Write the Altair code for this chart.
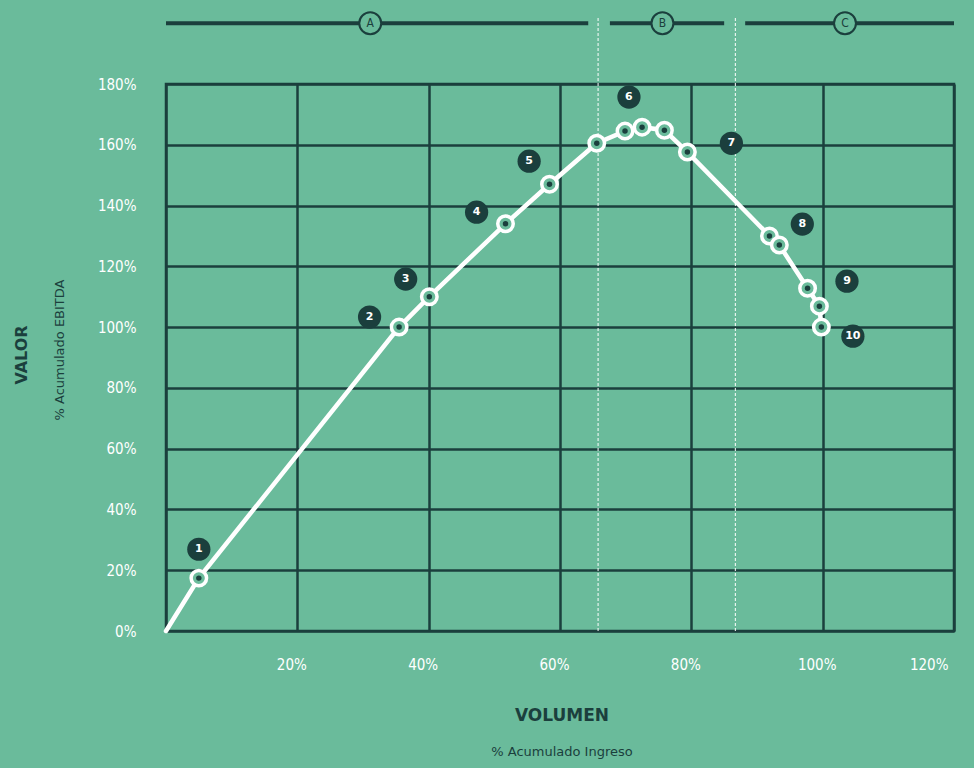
import altair as alt
import pandas as pd

# ---- data ----
x_vals = [0, 5.0, 35.5, 40.1, 51.7, 58.4, 65.6, 69.9, 72.5, 75.9, 79.4, 91.9, 93.4, 97.7, 99.5, 99.8]
y_vals = [0, 17.4, 100, 110, 134, 147, 160.5, 164.5, 165.8, 164.8, 157.6, 130, 127, 112.8, 106.9, 100]

badge_labels = ["1", "2", "3", "4", "5", "6", "7", "8", "9", "10"]
badge_x = [5.0, 31.0, 36.5, 47.3, 55.3, 70.5, 86.1, 96.9, 103.7, 104.6]
badge_y = [26.9, 103.3, 115.8, 137.8, 154.6, 175.7, 160.5, 133.9, 115.1, 97.0]

zone_labels = ["A", "B", "C"]
zone_start = [0, 67.6, 88.2]
zone_end = [64.3, 85.0, 120]
zone_center = [31.1, 75.6, 103.4]
zone_level = [200, 200, 200]

divider_x = [65.8, 86.7]
divider_bottom = [0, 0]
divider_top = [202, 202]

x_ticks = [0, 20, 40, 60, 80, 100, 120]
y_ticks = [0, 20, 40, 60, 80, 100, 120, 140, 160, 180]

# ---- styles ----
BG = "#6abb9b"
DARK = "#1b3f3d"
W, H = 788, 547
FONT = "Liberation Sans Narrow, DejaVu Sans Condensed, sans-serif"

xs = alt.Scale(domain=[0, 120], nice=False, zero=True)
ys = alt.Scale(domain=[0, 180], nice=False, zero=True)

curve = pd.DataFrame({"x": x_vals, "y": y_vals, "i": list(range(len(x_vals)))})
markers = curve[curve["i"] > 0]
badges = pd.DataFrame({"x": badge_x, "y": badge_y, "t": badge_labels})
zones = pd.DataFrame({"x": zone_start, "x2": zone_end, "c": zone_center,
                      "y": zone_level, "t": zone_labels})
dividers = pd.DataFrame({"x": divider_x, "y": divider_bottom, "y2": divider_top})
one = pd.DataFrame({"k": [0]})

x_axis = alt.Axis(values=x_ticks, grid=True, gridColor=DARK, gridWidth=2.5, gridOpacity=1,
                  domain=False, ticks=False, labelColor="white", labelFontSize=15,
                  labelFont=FONT, labelPadding=26, labelOffset=-6, title=None,
                  labelExpr="datum.value == 0 ? '' : datum.value + '%'")
y_axis = alt.Axis(values=y_ticks, grid=True, gridColor=DARK, gridWidth=2.5, gridOpacity=1,
                  domain=False, ticks=False, labelColor="white", labelFontSize=15,
                  labelFont=FONT, labelPadding=30, title=None,
                  labelExpr="datum.value + '%'")


def X(f):
    return alt.X(f, scale=xs, axis=x_axis)


def Y(f):
    return alt.Y(f, scale=ys, axis=y_axis)


line = alt.Chart(curve).mark_line(color="white", strokeWidth=4.5, strokeCap="round").encode(
    x=X("x:Q"), y=Y("y:Q"), order="i:Q",
)

rings = alt.Chart(markers).mark_point(shape="circle", filled=True, fill=BG, stroke="white",
                                      strokeWidth=3.5, size=240, opacity=1).encode(
    x=X("x:Q"), y=Y("y:Q"),
)
dots = alt.Chart(markers).mark_circle(color=DARK, size=30, opacity=1).encode(
    x=X("x:Q"), y=Y("y:Q"),
)

badge_c = alt.Chart(badges).mark_circle(color=DARK, size=540, opacity=1).encode(
    x=X("x:Q"), y=Y("y:Q"),
)
badge_t = alt.Chart(badges).mark_text(color="white", fontSize=11, fontWeight="bold",
                                      font="DejaVu Sans").encode(
    x=X("x:Q"), y=Y("y:Q"), text="t:N",
)

div = alt.Chart(dividers).mark_rule(color="white", strokeWidth=1, strokeDash=[3, 2]).encode(
    x=X("x:Q"), y=Y("y:Q"), y2="y2:Q",
)

zone_bar = alt.Chart(zones).mark_rule(color=DARK, strokeWidth=4).encode(
    x=X("x:Q"), x2="x2:Q", y=Y("y:Q"),
)
zone_c = alt.Chart(zones).mark_point(shape="circle", filled=True, fill=BG, stroke=DARK,
                                     strokeWidth=2, size=480, opacity=1).encode(
    x=X("c:Q"), y=Y("y:Q"),
)
zone_t = alt.Chart(zones).mark_text(color=DARK, fontSize=12, font="DejaVu Sans Condensed").encode(
    x=X("c:Q"), y=Y("y:Q"), text="t:N",
)

ttl_y = alt.Chart(one).mark_text(text="VALOR", angle=270, color=DARK, fontSize=16,
                                 fontWeight="bold", font="DejaVu Sans").encode(
    x=alt.value(-144), y=alt.value(271))
sub_y = alt.Chart(one).mark_text(text="% Acumulado EBITDA", angle=270, color=DARK, fontSize=13,
                                 font="DejaVu Sans").encode(
    x=alt.value(-106), y=alt.value(266))
ttl_x = alt.Chart(one).mark_text(text="VOLUMEN", color=DARK, fontSize=17,
                                 fontWeight="bold", font="DejaVu Sans").encode(
    x=alt.value(396), y=alt.value(632))
sub_x = alt.Chart(one).mark_text(text="% Acumulado Ingreso", color=DARK, fontSize=13,
                                 font="DejaVu Sans").encode(
    x=alt.value(396), y=alt.value(668))

chart = alt.layer(
    line, div, rings, dots, badge_c, badge_t, zone_bar, zone_c, zone_t,
    ttl_y, sub_y, ttl_x, sub_x,
).properties(
    width=W, height=H,
    padding={"left": 166, "top": 84, "right": 20, "bottom": 137},
    autosize=alt.AutoSizeParams(type="none"),
).configure(
    background=BG,
).configure_view(
    stroke=DARK, strokeWidth=2.5,
)

chart.save("out.html", embed_options={"renderer": "svg", "actions": False})
